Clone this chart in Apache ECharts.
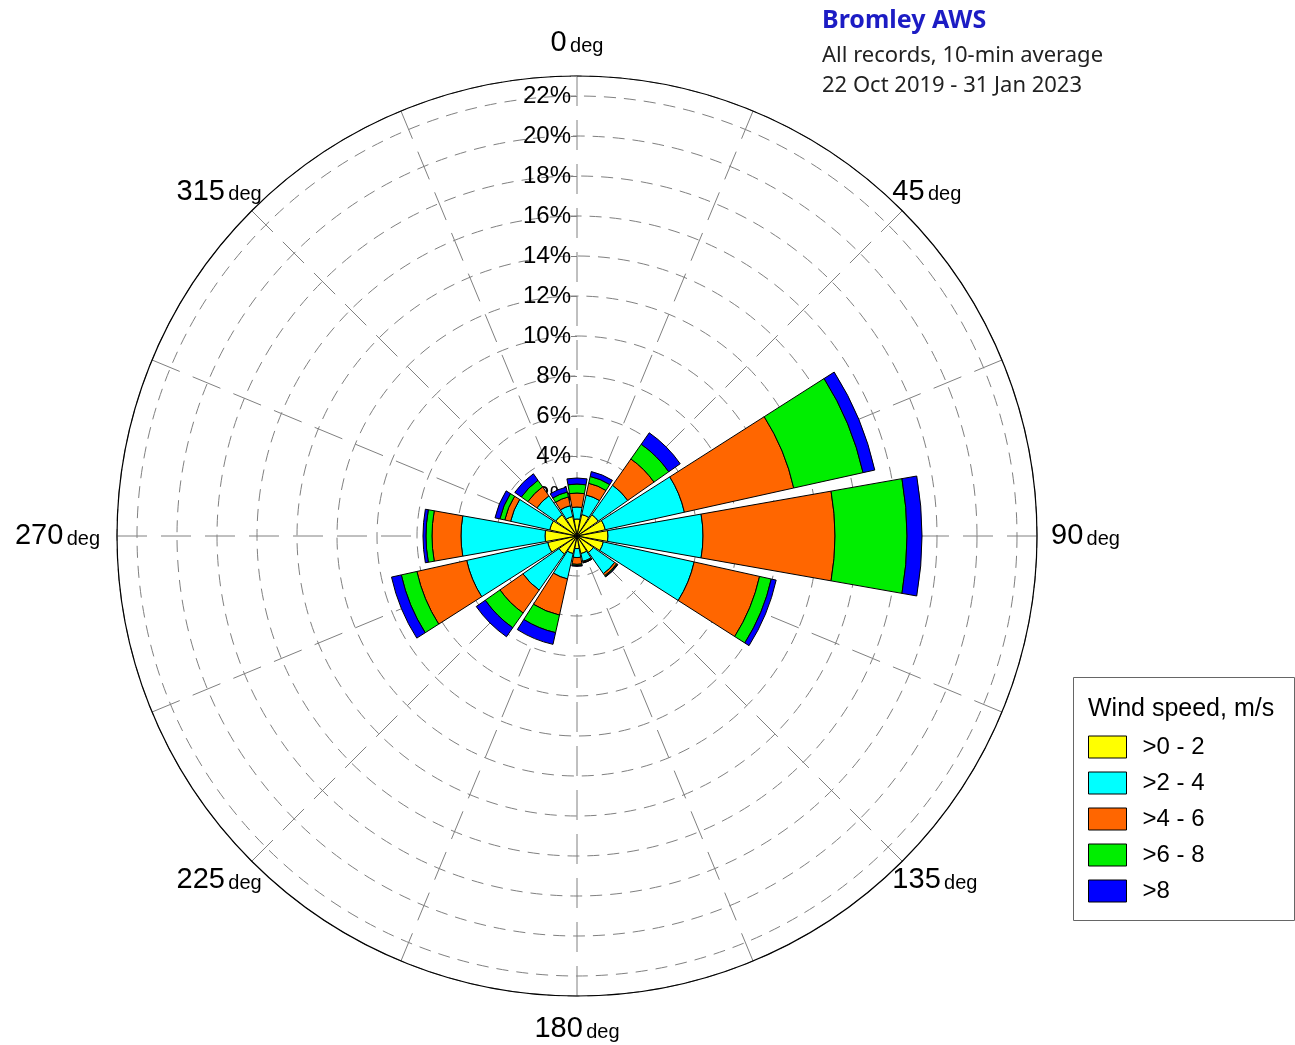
<!DOCTYPE html>
<html>
<head>
<meta charset="utf-8">
<title>Bromley AWS wind rose</title>
<script src="https://cdn.jsdelivr.net/npm/echarts@6/dist/echarts.min.js"></script>
<style>
    html, body { margin: 0; padding: 0; background: #fff; }
    #rose { width: 1295px; height: 1045px; }
</style>
</head>
<body>
<div id="rose"></div>
<script>
// 16 sectors, N first, clockwise
var directions = ['N','NNE','NE','ENE','E','ESE','SE','SSE','S','SSW','SW','WSW','W','WNW','NW','NNW'];
var speedClasses = ['>0 - 2', '>2 - 4', '>4 - 6', '>6 - 8', '>8'];
var speedColors = ['#ffff00', '#00ffff', '#ff6600', '#00ee00', '#0000ff'];

// frequency of each class per sector, % of records
var speed0to2 = [0.85, 1.1, 1.3, 1.45, 1.55, 1.35, 1.0, 0.9, 0.63, 0.9, 1.1, 1.5, 1.6, 1.4, 1.3, 1.0];
var speed2to4 = [0.6, 1.0, 1.8, 4.05, 4.75, 4.65, 1.3, 0.4, 0.45, 1.3, 2.2, 4.15, 4.2, 2.0, 1.15, 0.55];
var speed4to6 = [0.7, 0.6, 1.6, 5.6, 6.6, 3.35, 0.12, 0.05, 0.34, 1.85, 1.4, 2.55, 1.45, 0.3, 0.55, 0.45];
var speed6to8 = [0.45, 0.35, 0.9, 3.55, 3.6, 0.6, 0.05, 0.02, 0.06, 0.9, 0.9, 0.8, 0.3, 0.25, 0.4, 0.25];
var speedOver8 = [0.3, 0.25, 0.7, 0.6, 0.75, 0.25, 0.03, 0.01, 0.04, 0.6, 0.55, 0.5, 0.15, 0.25, 0.4, 0.25];

var radiusMax = 23;      // outer circle, %
var ringStep = 2;        // dashed rings every 2 %
var degLabels = [0, 45, 90, 135, 180, 225, 270, 315];

var roseChart = echarts.init(document.getElementById('rose'));

var classData = [speed0to2, speed2to4, speed4to6, speed6to8, speedOver8];
var series = [];
for (var i = 0; i < speedClasses.length; i++) {
    series.push({
        name: speedClasses[i],
        type: 'bar',
        coordinateSystem: 'polar',
        polarIndex: 0,
        stack: 'wind',
        barCategoryGap: '11%',
        z: 10,
        itemStyle: {
            color: speedColors[i],
            borderColor: '#000',
            borderWidth: 1
        },
        emphasis: { disabled: true },
        data: classData[i]
    });
}

// label styles: number + smaller "deg", line height pushes them off the circle
function degStyle(lh, padLeft, padRight) {
    return [
        { fontFamily: 'Liberation Sans', fontSize: 29, color: '#000', lineHeight: lh, padding: [0, 0, 0, padLeft] },
        { fontFamily: 'Liberation Sans', fontSize: 20, color: '#000', lineHeight: lh - 6, padding: [6, padRight, 0, 0] }
    ];
}
var sN = degStyle(94, 0, 0);     // 0 and 180
var sD = degStyle(58, 0, 0);     // diagonals
var sE = degStyle(32, 28, 0);    // 90
var sW = degStyle(32, 0, 31);    // 270

var center = [577, 536];

var option = {
    animation: false,
    backgroundColor: '#fff',
    title: [
        {
            text: 'Bromley AWS',
            left: 822,
            top: 6,
            padding: 0,
            textStyle: {
                fontFamily: 'Noto Sans',
                fontSize: 25,
                fontWeight: 'bold',
                color: '#1c1cc4',
                lineHeight: 30
            }
        },
        {
            text: 'All records, 10-min average\n22 Oct 2019 - 31 Jan 2023',
            left: 822,
            top: 41,
            padding: 0,
            textStyle: {
                fontFamily: 'Noto Sans',
                fontSize: 22,
                fontWeight: 'normal',
                color: '#222',
                lineHeight: 30
            }
        }
    ],
    polar: [
        { center: center, radius: 460 },
        { center: center, radius: 460 }
    ],
    angleAxis: [
        {
            // bars: one band per sector, N centred on top
            polarIndex: 0,
            type: 'category',
            data: directions,
            startAngle: 90 + 360 / 32,
            boundaryGap: true,
            axisLine: { show: false },
            axisTick: { show: false },
            axisLabel: { show: false },
            splitLine: { show: false }
        },
        {
            // compass grid: outer circle, radial dashes and deg labels
            polarIndex: 1,
            type: 'value',
            min: 0,
            max: 360,
            interval: 22.5,
            startAngle: 90,
            z: 1,
            axisLine: { show: true, lineStyle: { color: '#000', width: 1.2 } },
            axisTick: { show: false },
            axisLabel: {
                margin: -14,
                formatter: function (v) {
                    if (degLabels.indexOf(v) < 0) return '';
                    var k = 'd';
                    if (v === 0 || v === 180) k = 'n';
                    else if (v === 90) k = 'e';
                    else if (v === 270) k = 'w';
                    return '{' + k + '1|' + v + '} {' + k + '2|deg}';
                },
                rich: {
                    n1: sN[0], n2: sN[1],
                    d1: sD[0], d2: sD[1],
                    e1: sE[0], e2: sE[1],
                    w1: sW[0], w2: sW[1]
                }
            },
            splitLine: {
                show: true,
                lineStyle: { color: '#808080', width: 1, type: [30, 14] }
            }
        }
    ],
    radiusAxis: [
        {
            polarIndex: 0,
            min: 0,
            max: radiusMax,
            axisLine: { show: false },
            axisTick: { show: false },
            axisLabel: { show: false },
            splitLine: { show: false }
        },
        {
            polarIndex: 1,
            min: 0,
            max: radiusMax,
            interval: ringStep,
            z: 1,
            axisLine: { show: false },
            axisTick: { show: true, length: 6, lineStyle: { color: '#808080' } },
            axisLabel: {
                margin: 6,
                fontFamily: 'Liberation Sans',
                fontSize: 24,
                color: '#000',
                formatter: function (v) {
                    if (v === 0 || v > 22) return '';
                    return v + '%';
                }
            },
            splitLine: {
                show: true,
                lineStyle: { color: '#808080', width: 1, type: [12, 8] }
            }
        }
    ],
    legend: {
        data: speedClasses,
        orient: 'vertical',
        left: 1088,
        top: 735,
        padding: 0,
        icon: 'rect',
        itemWidth: 38,
        itemHeight: 22,
        itemGap: 12,
        selectedMode: false,
        itemStyle: { borderColor: '#000', borderWidth: 1 },
        textStyle: {
            fontFamily: 'Liberation Sans',
            fontSize: 24,
            color: '#000',
            padding: [0, 0, 0, 11]
        }
    },
    graphic: [
        {
            type: 'rect',
            left: 1073,
            top: 677,
            z: 0,
            shape: { width: 221, height: 243 },
            style: { fill: '#fff', stroke: '#666', lineWidth: 1 }
        },
        {
            type: 'text',
            left: 1088,
            top: 697,
            z: 1,
            style: {
                text: 'Wind speed, m/s',
                fontFamily: 'Liberation Sans',
                fontSize: 25,
                fill: '#000'
            }
        }
    ],
    series: series
};

roseChart.setOption(option);
</script>
</body>
</html>
